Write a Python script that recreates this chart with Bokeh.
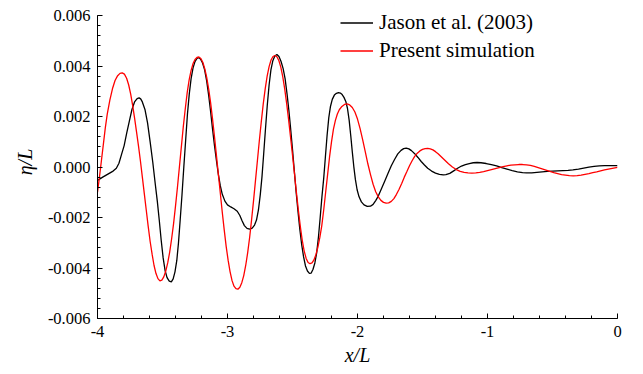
from bokeh.plotting import figure
from bokeh.models import FixedTicker, PrintfTickFormatter, Legend, LegendItem, Range1d
from bokeh.embed import file_html
from bokeh.resources import INLINE

# Jason et al. (2003)
jason_x = [-4.000, -3.960, -3.920, -3.880, -3.855, -3.835, -3.815, -3.795, -3.775, -3.755,
           -3.735, -3.715, -3.695, -3.680, -3.668, -3.655, -3.635, -3.615, -3.595, -3.575,
           -3.555, -3.540, -3.525, -3.510, -3.495, -3.480, -3.465, -3.448, -3.432, -3.418,
           -3.404, -3.390, -3.377, -3.364, -3.350, -3.336, -3.322, -3.308, -3.294, -3.280,
           -3.265, -3.250, -3.235, -3.222, -3.208, -3.192, -3.176, -3.160, -3.145, -3.130,
           -3.115, -3.100, -3.085, -3.070, -3.055, -3.040, -3.020, -3.000, -2.975, -2.950,
           -2.925, -2.905, -2.888, -2.870, -2.850, -2.830, -2.810, -2.792, -2.777, -2.762,
           -2.748, -2.735, -2.722, -2.708, -2.694, -2.680, -2.666, -2.652, -2.636, -2.620,
           -2.604, -2.588, -2.572, -2.557, -2.542, -2.528, -2.514, -2.500, -2.486, -2.472,
           -2.458, -2.444, -2.430, -2.415, -2.400, -2.385, -2.370, -2.356, -2.342, -2.328,
           -2.314, -2.300, -2.287, -2.274, -2.260, -2.247, -2.234, -2.221, -2.208, -2.194,
           -2.178, -2.162, -2.146, -2.132, -2.118, -2.104, -2.090, -2.077, -2.064, -2.052,
           -2.040, -2.028, -2.016, -2.003, -1.988, -1.970, -1.950, -1.925, -1.900, -1.880,
           -1.860, -1.840, -1.815, -1.790, -1.765, -1.740, -1.715, -1.690, -1.665, -1.645,
           -1.625, -1.605, -1.585, -1.560, -1.535, -1.510, -1.485, -1.460, -1.430, -1.400,
           -1.370, -1.340, -1.320, -1.290, -1.260, -1.230, -1.200, -1.170, -1.140, -1.110,
           -1.080, -1.050, -1.010, -0.970, -0.930, -0.890, -0.850, -0.810, -0.770, -0.730,
           -0.700, -0.660, -0.620, -0.580, -0.540, -0.500, -0.460, -0.420, -0.380, -0.343,
           -0.300, -0.260, -0.220, -0.180, -0.140, -0.100, -0.060, -0.020, 0.000]
jason_y = [-0.00053, -0.00040, -0.00028, -0.00016, -0.00005, 0.00015, 0.00050, 0.00085, 0.00135, 0.00182,
           0.00228, 0.00258, 0.00271, 0.00274, 0.00270, 0.00258, 0.00228, 0.00175, 0.00100, 0.00020,
           -0.00070, -0.00135, -0.00210, -0.00290, -0.00360, -0.00410, -0.00438, -0.00452, -0.00455, -0.00443,
           -0.00415, -0.00370, -0.00300, -0.00210, -0.00110, 0.00000, 0.00105, 0.00210, 0.00290, 0.00350,
           0.00393, 0.00418, 0.00430, 0.00433, 0.00428, 0.00412, 0.00385, 0.00340, 0.00285, 0.00220,
           0.00150, 0.00085, 0.00025, -0.00030, -0.00075, -0.00108, -0.00135, -0.00150, -0.00158, -0.00165,
           -0.00175, -0.00192, -0.00213, -0.00232, -0.00243, -0.00246, -0.00242, -0.00230, -0.00210, -0.00170,
           -0.00110, -0.00040, 0.00050, 0.00150, 0.00245, 0.00325, 0.00385, 0.00420, 0.00440, 0.00446,
           0.00438, 0.00418, 0.00390, 0.00350, 0.00290, 0.00225, 0.00150, 0.00070, -0.00015, -0.00100,
           -0.00175, -0.00245, -0.00305, -0.00355, -0.00392, -0.00412, -0.00421, -0.00420, -0.00405, -0.00380,
           -0.00340, -0.00275, -0.00200, -0.00120, -0.00045, 0.00040, 0.00125, 0.00195, 0.00240, 0.00268,
           0.00285, 0.00292, 0.00295, 0.00293, 0.00287, 0.00276, 0.00260, 0.00232, 0.00185, 0.00125,
           0.00060, 0.00000, -0.00050, -0.00090, -0.00118, -0.00138, -0.00150, -0.00156, -0.00155, -0.00148,
           -0.00133, -0.00115, -0.00085, -0.00055, -0.00025, 0.00005, 0.00030, 0.00052, 0.00066, 0.00073,
           0.00075, 0.00072, 0.00065, 0.00053, 0.00038, 0.00022, 0.00008, -0.00005, -0.00016, -0.00024,
           -0.00029, -0.00031, -0.00030, -0.00025, -0.00015, -0.00005, 0.00004, 0.00010, 0.00014, 0.00017,
           0.00018, 0.00017, 0.00014, 0.00010, 0.00005, -0.00002, -0.00008, -0.00014, -0.00019, -0.00022,
           -0.00023, -0.00023, -0.00021, -0.00019, -0.00017, -0.00016, -0.00015, -0.00014, -0.00013, -0.00011,
           -0.00008, -0.00004, 0.00000, 0.00003, 0.00005, 0.00006, 0.00006, 0.00006, 0.00006]

# Present simulation
sim_x = [-4.000, -3.985, -3.970, -3.955, -3.940, -3.925, -3.905, -3.885, -3.865, -3.845,
         -3.827, -3.810, -3.793, -3.776, -3.760, -3.745, -3.730, -3.715, -3.700, -3.685,
         -3.670, -3.655, -3.640, -3.625, -3.610, -3.595, -3.580, -3.565, -3.550, -3.535,
         -3.520, -3.505, -3.490, -3.475, -3.460, -3.445, -3.430, -3.415, -3.400, -3.385,
         -3.370, -3.355, -3.340, -3.325, -3.310, -3.295, -3.280, -3.265, -3.250, -3.235,
         -3.220, -3.205, -3.190, -3.175, -3.160, -3.145, -3.130, -3.115, -3.100, -3.085,
         -3.070, -3.055, -3.040, -3.025, -3.010, -2.995, -2.980, -2.965, -2.950, -2.935,
         -2.920, -2.905, -2.890, -2.875, -2.860, -2.845, -2.830, -2.815, -2.800, -2.785,
         -2.770, -2.755, -2.740, -2.725, -2.710, -2.695, -2.680, -2.665, -2.650, -2.635,
         -2.620, -2.605, -2.590, -2.575, -2.560, -2.545, -2.530, -2.515, -2.500, -2.485,
         -2.470, -2.455, -2.440, -2.425, -2.410, -2.395, -2.380, -2.365, -2.350, -2.335,
         -2.320, -2.305, -2.290, -2.275, -2.260, -2.245, -2.230, -2.215, -2.200, -2.185,
         -2.170, -2.155, -2.140, -2.120, -2.100, -2.080, -2.060, -2.040, -2.020, -2.000,
         -1.980, -1.960, -1.940, -1.920, -1.900, -1.880, -1.860, -1.840, -1.820, -1.800,
         -1.780, -1.760, -1.740, -1.720, -1.700, -1.680, -1.660, -1.640, -1.620, -1.600,
         -1.580, -1.560, -1.540, -1.520, -1.500, -1.480, -1.460, -1.440, -1.420, -1.400,
         -1.380, -1.360, -1.340, -1.320, -1.300, -1.270, -1.240, -1.210, -1.180, -1.150,
         -1.120, -1.090, -1.060, -1.030, -1.000, -0.970, -0.940, -0.910, -0.880, -0.850,
         -0.820, -0.790, -0.760, -0.730, -0.700, -0.670, -0.640, -0.610, -0.580, -0.550,
         -0.520, -0.490, -0.460, -0.430, -0.400, -0.370, -0.340, -0.310, -0.280, -0.250,
         -0.220, -0.190, -0.160, -0.130, -0.100, -0.070, -0.040, -0.020, 0.000]
sim_y = [-0.00100, -0.00040, 0.00025, 0.00090, 0.00155, 0.00210, 0.00265, 0.00310, 0.00343, 0.00362,
         0.00371, 0.00373, 0.00368, 0.00352, 0.00325, 0.00290, 0.00245, 0.00195, 0.00140, 0.00085,
         0.00025, -0.00040, -0.00105, -0.00170, -0.00235, -0.00295, -0.00345, -0.00390, -0.00422, -0.00442,
         -0.00451, -0.00448, -0.00435, -0.00412, -0.00380, -0.00338, -0.00285, -0.00225, -0.00155, -0.00080,
         0.00000, 0.00080, 0.00160, 0.00230, 0.00295, 0.00345, 0.00383, 0.00410, 0.00426, 0.00434,
         0.00436, 0.00430, 0.00415, 0.00390, 0.00355, 0.00310, 0.00255, 0.00190, 0.00120, 0.00045,
         -0.00030, -0.00105, -0.00180, -0.00250, -0.00315, -0.00370, -0.00415, -0.00450, -0.00472, -0.00482,
         -0.00484, -0.00476, -0.00458, -0.00430, -0.00390, -0.00340, -0.00280, -0.00210, -0.00135, -0.00055,
         0.00025, 0.00105, 0.00180, 0.00250, 0.00310, 0.00360, 0.00398, 0.00424, 0.00438, 0.00442,
         0.00437, 0.00422, 0.00396, 0.00358, 0.00310, 0.00252, 0.00188, 0.00118, 0.00048, -0.00025,
         -0.00100, -0.00170, -0.00235, -0.00290, -0.00333, -0.00362, -0.00378, -0.00383, -0.00380, -0.00368,
         -0.00347, -0.00318, -0.00280, -0.00233, -0.00170, -0.00100, -0.00030, 0.00040, 0.00100, 0.00150,
         0.00185, 0.00210, 0.00227, 0.00240, 0.00248, 0.00250, 0.00246, 0.00236, 0.00218, 0.00190,
         0.00152, 0.00108, 0.00060, 0.00012, -0.00030, -0.00068, -0.00098, -0.00118, -0.00132, -0.00140,
         -0.00143, -0.00142, -0.00136, -0.00125, -0.00108, -0.00088, -0.00065, -0.00040, -0.00018, 0.00005,
         0.00025, 0.00042, 0.00055, 0.00064, 0.00070, 0.00073, 0.00074, 0.00072, 0.00068, 0.00061,
         0.00053, 0.00043, 0.00033, 0.00023, 0.00013, 0.00000, -0.00010, -0.00017, -0.00021, -0.00023,
         -0.00024, -0.00023, -0.00021, -0.00018, -0.00014, -0.00010, -0.00006, -0.00002, 0.00002, 0.00005,
         0.00008, 0.00009, 0.00010, 0.00010, 0.00009, 0.00007, 0.00003, -0.00002, -0.00007, -0.00012,
         -0.00017, -0.00022, -0.00026, -0.00030, -0.00032, -0.00034, -0.00035, -0.00034, -0.00032, -0.00029,
         -0.00026, -0.00022, -0.00019, -0.00015, -0.00011, -0.00008, -0.00005, -0.00003, -0.00001]

x_ticks = [-4, -3, -2, -1, 0]
y_ticks = [-0.006, -0.004, -0.002, 0.000, 0.002, 0.004, 0.006]
series_labels = ["Jason et al. (2003)", "Present simulation"]

FONT = "Liberation Serif"

# The frame reaches 10 px above y = 0.006 so the legend is not clipped;
# the y axis itself is bounded to [-0.006, 0.006].
p = figure(width=643, height=374, output_backend="svg", toolbar_location=None,
           x_range=Range1d(-4, 0), y_range=Range1d(-0.006, 0.0064),
           min_border_left=97, min_border_right=26, min_border_top=5, min_border_bottom=56)
p.outline_line_color = None
p.xgrid.visible = False
p.ygrid.visible = False
p.background_fill_color = "white"
p.border_fill_color = "white"

r1 = p.line(jason_x, jason_y, line_color="black", line_width=1.3)
r2 = p.line(sim_x, sim_y, line_color="#ff0000", line_width=1.3)

p.xaxis.ticker = FixedTicker(ticks=x_ticks, minor_ticks=[-4 + 0.2 * i for i in range(21)])
p.yaxis.ticker = FixedTicker(ticks=y_ticks, minor_ticks=[-0.006 + 0.0004 * i for i in range(31)])
p.xaxis.formatter = PrintfTickFormatter(format="%d")
p.yaxis.formatter = PrintfTickFormatter(format="%.3f")
p.yaxis.bounds = (-0.006, 0.006)

for ax in (p.xaxis[0], p.yaxis[0]):
    ax.axis_line_color = "black"
    ax.axis_line_width = 1
    ax.major_tick_in = 5
    ax.major_tick_out = 0
    ax.minor_tick_in = 3
    ax.minor_tick_out = 0
    ax.major_tick_line_color = "black"
    ax.minor_tick_line_color = "black"
    ax.major_label_text_font = FONT
    ax.major_label_text_font_size = "16.5px"
    ax.major_label_text_color = "black"
    ax.major_label_standoff = 7
    ax.axis_label_text_font = FONT
    ax.axis_label_text_font_size = "20px"
    ax.axis_label_text_font_style = "italic"
    ax.axis_label_text_color = "black"

p.xaxis.axis_label = "x/L"
p.yaxis.axis_label = "η/L"
p.xaxis.axis_label_standoff = 4
p.yaxis.axis_label_standoff = 9

legend = Legend(items=[LegendItem(label=series_labels[0], renderers=[r1]),
                       LegendItem(label=series_labels[1], renderers=[r2])],
                location=(243, 255), padding=0, margin=0, spacing=3,
                glyph_width=33, glyph_height=23, label_height=23, label_standoff=6,
                label_text_font=FONT, label_text_font_size="21px", label_text_color="black",
                border_line_color=None, background_fill_alpha=0)
p.add_layout(legend)

open("out.html", "w").write(file_html(p, INLINE))
